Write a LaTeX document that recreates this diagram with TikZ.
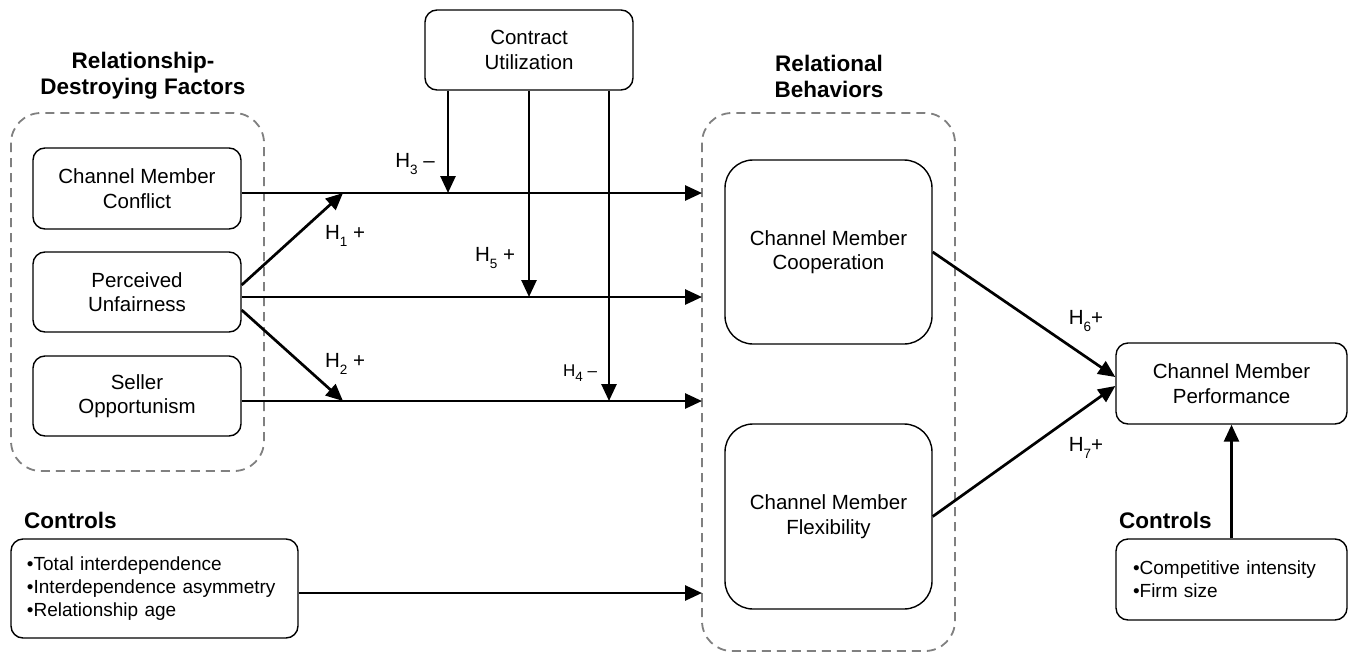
\documentclass[tikz,border=0pt]{standalone}
\usepackage{fontspec}
\setmainfont{Liberation Sans}
\usetikzlibrary{arrows.meta}
% subscript index for hypothesis labels
\newcommand\hsub[1]{\raisebox{-0.3em}{\fontsize{13.5}{13.5}\selectfont#1}}
\begin{document}
\begin{tikzpicture}[x=1pt,y=-1pt,
  box/.style={draw, line width=1.4pt, rounded corners=12pt, inner sep=0pt,
    align=center, font=\fontsize{20.5}{24.5}\selectfont},
  bigbox/.style={box, rounded corners=28pt},
  listbox/.style={box, align=left, font=\fontsize{19}{23}\selectfont},
  grp/.style={draw=black!50, line width=1.8pt, dash pattern=on 9pt off 6pt, rounded corners=30pt},
  title/.style={font=\fontsize{22.5}{26}\selectfont\bfseries, align=center, inner sep=0pt},
  arr/.style={line width=2.7pt, -{Triangle[length=17pt,width=15pt]}},
  hyp/.style={font=\fontsize{20.5}{24}\selectfont, inner sep=0pt},
]
\useasboundingbox (0,0) rectangle (1351,653);

% dashed construct groups
\draw[grp] (11,113) rectangle (264,471);
\draw[grp] (702,113) rectangle (955,651);

% group titles
\node[title] (tleft) at (143,76) {Relationship-\\Destroying Factors};
\node[title] (tright) at (829,76) {Relational\\Behaviors};
\node[title, anchor=west] (tctl1) at (24,520) {Controls};
\node[title, anchor=west] (tctl2) at (1119,520) {Controls};

% constructs
\node[box, minimum width=208pt, minimum height=81pt] (conf) at (137,188.5) {Channel Member\\Conflict};
\node[box, minimum width=208pt, minimum height=80pt] (unf) at (137,292) {Perceived\\Unfairness};
\node[box, minimum width=208pt, minimum height=80pt] (opp) at (137,396) {Seller\\Opportunism};
\node[box, minimum width=208pt, minimum height=80pt] (cu) at (529,50) {Contract\\Utilization};
\node[bigbox, minimum width=207pt, minimum height=184pt] (coop) at (828.5,252) {Channel Member\\Cooperation};
\node[bigbox, minimum width=207pt, minimum height=185pt] (flex) at (828.5,516.5) {Channel Member\\Flexibility};
\node[box, minimum width=231pt, minimum height=81pt] (perf) at (1231.5,383.5) {Channel Member\\Performance};
\node[listbox, minimum width=287pt, minimum height=99pt, text width=255pt] (ctl1) at (154.5,588.5)
  {•Total interdependence\\•Interdependence asymmetry\\•Relationship age};
\node[listbox, minimum width=231pt, minimum height=81pt, text width=197pt] (ctl2) at (1231.5,579.5)
  {•Competitive intensity\\•Firm size};

% arrow end points on the behaviour group and junctions on the paths
\coordinate (e1) at (702,193);
\coordinate (e2) at (702,297);
\coordinate (e3) at (702,401);
\coordinate (e4) at (702,593);
\coordinate (j1) at (343,193);
\coordinate (j2) at (343,401);
\coordinate (m3) at (448,193);
\coordinate (m5) at (529,297);
\coordinate (m4) at (609,401);

% main paths
\draw[arr] (conf.east |- e1) -- (e1);
\draw[arr] (unf.east |- e2) -- (e2);
\draw[arr] (opp.east |- e3) -- (e3);
\draw[arr] (ctl1.east |- e4) -- (e4);

% unfairness effects on the other two paths
\draw[arr] ([yshift=7pt]unf.east) -- (j1);
\draw[arr] ([yshift=-18pt]unf.east) -- (j2);

% moderation by contract utilization
\draw[arr] (cu.south -| m3) -- (m3);
\draw[arr] (cu.south -| m5) -- (m5);
\draw[arr] (cu.south -| m4) -- (m4);

% outcomes
\draw[arr] (coop.east) -- ([yshift=6.5pt]perf.west);
\draw[arr] (flex.east) -- ([yshift=-2.5pt]perf.west);
\draw[arr] (ctl2.north) -- (perf.south);

% hypothesis labels
\node[hyp] (h1) at (345,236) {H\hsub{1} +};
\node[hyp] (h2) at (345,364) {H\hsub{2} +};
\node[hyp] (h3) at (415,164) {H\hsub{3} –};
\node[hyp, font=\fontsize{17}{20}\selectfont] (h4) at (580,373) {H\hsub{4} –};
\node[hyp] (h5) at (495,258) {H\hsub{5} +};
\node[hyp] (h6) at (1086,321) {H\hsub{6}+};
\node[hyp] (h7) at (1086,448) {H\hsub{7}+};
\end{tikzpicture}
\end{document}
